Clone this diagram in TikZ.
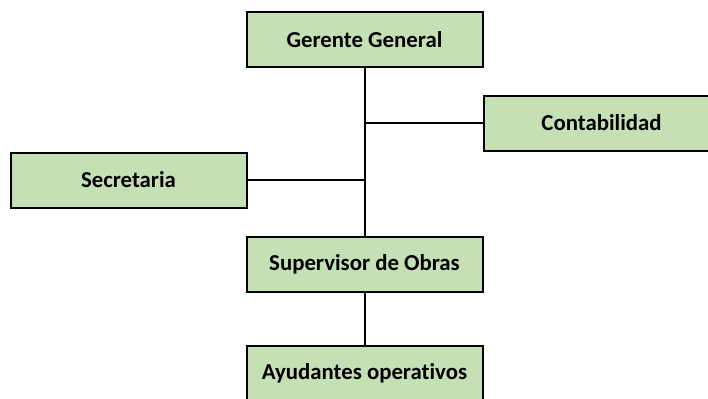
\documentclass[tikz,border=0pt]{standalone}
\usepackage{fontspec}
\setmainfont{Carlito}[Ligatures={NoCommon}]
\usepackage{xcolor}
\usetikzlibrary{positioning}
\definecolor{boxgreen}{HTML}{C5E0B4}

\begin{document}
\begin{tikzpicture}[
greenbox/.style={rectangle, draw=black, fill=boxgreen, line width=1pt, minimum width=118pt, minimum height=27.5pt, font=\fontsize{11.4}{13}\selectfont\bfseries, inner sep=0pt},
link/.style={draw=black, line width=1pt},
]
\useasboundingbox (0,0) rectangle (354pt,-199pt);
\clip (0,0) rectangle (354pt,-199pt);

%Nodes
\node[greenbox]    (gerente)                                  at (182.25pt,-19.75pt) {Gerente General};
\node[greenbox]    (supervisor)  [below=84pt of gerente]      {Supervisor de Obras};
\node[greenbox]    (ayudantes)   [below=26pt of supervisor]   {Ayudantes operativos};
\coordinate[below=27.5pt of gerente.south] (jcont);
\coordinate[below=56pt of gerente.south]   (jsecr);
\node[greenbox]    (contabilidad) [right=59pt of jcont, minimum width=130pt] {\hspace*{-12pt}Contabilidad};
\node[greenbox]    (secretaria)  [left=58.5pt of jsecr]       {Secretaria};

%Lines
\draw[link] (gerente.south) -- (supervisor.north);
\draw[link] (supervisor.south) -- (ayudantes.north);
\draw[link] (jcont) -- (contabilidad.west);
\draw[link] (jsecr) -- (secretaria.east);
\end{tikzpicture}
\end{document}
